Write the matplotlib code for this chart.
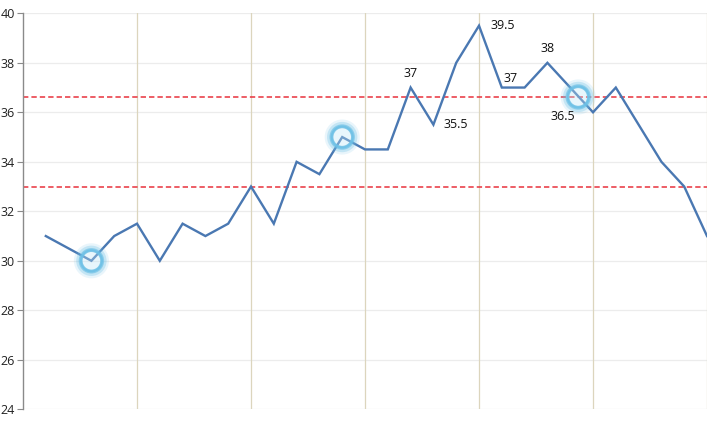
import numpy as np
import matplotlib
matplotlib.use("Agg")
import matplotlib.pyplot as plt

plt.rcParams['font.family'] = ['Open Sans', 'DejaVu Sans']

x_vals = list(range(1, 31))
y_vals = [31, 30.5, 30, 31, 31.5, 30, 31.5, 31, 31.5, 33,
          31.5, 34, 33.5, 35, 34.5, 34.5, 37, 35.5, 38, 39.5,
          37, 37, 38, 37, 36, 37, 35.5, 34, 33, 31]
upper_limit = 36.62
lower_limit = 32.98
highlight_x = [3, 14, 24.35]
highlight_y = [30, 35, 36.62]
label_idx = [17, 18, 20, 21, 23]
label_txt = ["37", "35.5", "39.5", "37", "38"]
label_off = [(0, 10), (16, 0), (17, 0), (6, 6.5), (0, 10)]
extra_label = ("36.5", 24.35, 36.62, (-11, -14))

fig = plt.figure(figsize=(7.12, 4.21), dpi=100)
ax = fig.add_axes([0.0323, 0.0278, 0.9607, 0.9406])
ax.set_xlim(0, 30)
ax.set_ylim(24, 40)
ax.set_yticks(np.arange(24, 41, 2))
ax.set_xticks([])

for yv in np.arange(24, 41, 2):
    ax.axhline(yv, color='#ececec', lw=0.9, zorder=0)
for xv in range(5, 31, 5):
    ax.axvline(xv, color='#dcd5bd', lw=0.9, zorder=0)

for s in ['top', 'right', 'bottom']:
    ax.spines[s].set_visible(False)
ax.spines['left'].set_color('#8a8a8a')
ax.spines['left'].set_linewidth(1.0)
ax.tick_params(axis='y', direction='out', length=4, width=0.8, color='#8a8a8a',
               labelsize=9, labelcolor='#222222', pad=2)

ax.axhline(upper_limit, color='#e8323c', lw=1.1, ls=(0, (3.5, 2)), zorder=2)
ax.axhline(lower_limit, color='#e8323c', lw=1.1, ls=(0, (3.5, 2)), zorder=2)

ax.plot(x_vals, y_vals, color='#4a78b2', lw=1.7, zorder=3, solid_joinstyle='miter')

# glow circles
ax.scatter(highlight_x, highlight_y, s=230, facecolors='#bfe6f7', edgecolors='none',
           alpha=0.35, zorder=4)
for s, lw, a in [(370, 6, 0.15), (300, 4.5, 0.3), (240, 2.8, 0.65), (230, 1.5, 0.8)]:
    ax.scatter(highlight_x, highlight_y, s=s, facecolors='none',
               edgecolors='#6cc0e6', linewidths=lw, alpha=a, zorder=4)

for i, t, off in zip(label_idx, label_txt, label_off):
    ax.annotate(t, (x_vals[i - 1], y_vals[i - 1]), xytext=off, textcoords='offset points',
                ha='center', va='center', fontsize=9, color='#111111', zorder=5)
ax.annotate(extra_label[0], (extra_label[1], extra_label[2]), xytext=extra_label[3],
            textcoords='offset points', ha='center', va='center', fontsize=9,
            color='#111111', zorder=5)

fig.savefig('out.png', dpi=100)
